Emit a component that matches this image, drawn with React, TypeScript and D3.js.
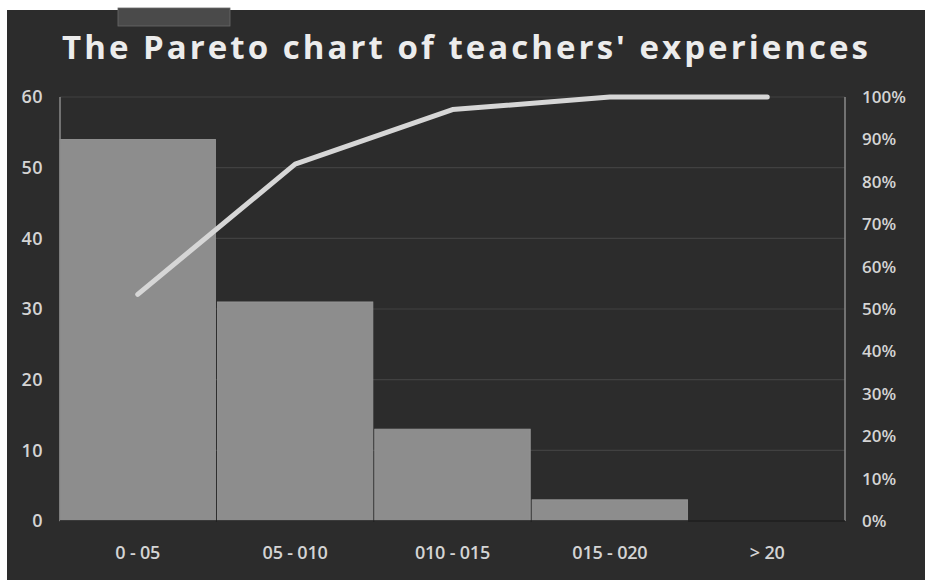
import * as d3 from "d3";
import React from "react";

const categories = ["0 - 05", "05 - 010", "010 - 015", "015 - 020", "> 20"];
const counts = [54, 31, 13, 3, 0];
const leftTicks = [0, 10, 20, 30, 40, 50, 60];
const rightTicks = [0, 0.1, 0.2, 0.3, 0.4, 0.5, 0.6, 0.7, 0.8, 0.9, 1];

const W = 927;
const H = 586;
const MARGIN = { left: 60, right: 82, top: 97, bottom: 65 };

const App = () => {
  const total = d3.sum(counts);
  const cumulative = d3.cumsum(counts).map((c) => c / total);

  const x = d3
    .scaleBand<string>()
    .domain(categories)
    .range([MARGIN.left, W - MARGIN.right])
    .paddingInner(0.012)
    .paddingOuter(0);
  const y = d3.scaleLinear().domain([0, 60]).range([H - MARGIN.bottom, MARGIN.top]);
  const yPct = d3.scaleLinear().domain([0, 1]).range([H - MARGIN.bottom, MARGIN.top]);

  const line = d3
    .line<number>()
    .x((_, i) => x(categories[i])! + x.bandwidth() / 2)
    .y((d) => yPct(d));

  const fmtPct = d3.format(".0%");
  const labelFont = "'Open Sans', sans-serif";

  return (
    <svg
      width={W}
      height={H}
      style={{ position: "absolute", left: 0, top: 0 }}
    >
      <rect width={W} height={H} fill="#ffffff" />
      {/* dark panel */}
      <rect x={7} y={10} width={918} height={570} fill="#2c2c2c" />
      <rect x={118} y={8} width={112} height={18} fill="#4a4a4a" stroke="#6a6a6a" strokeWidth={0.8} />

      <text
        x={465}
        y={59}
        textAnchor="middle"
        fontFamily={labelFont}
        fontWeight={700}
        fontSize={33}
        fill="#ececec"
        textLength={806}
        lengthAdjust="spacing"
      >
        The Pareto chart of teachers' experiences
      </text>

      {/* gridlines */}
      {leftTicks.slice(1).map((t) => (
        <line
          key={t}
          x1={MARGIN.left}
          x2={W - MARGIN.right}
          y1={y(t)}
          y2={y(t)}
          stroke="#414141"
          strokeWidth={1.2}
        />
      ))}

      {/* bars */}
      {counts.map((c, i) => (
        <rect
          key={categories[i]}
          x={x(categories[i])}
          y={y(c)}
          width={x.bandwidth()}
          height={y(0) - y(c)}
          fill="#8d8d8d"
          stroke="#9a9a9a"
          strokeWidth={0.8}
        />
      ))}

      {/* axes lines */}
      <line x1={MARGIN.left} x2={MARGIN.left} y1={MARGIN.top} y2={y(0)} stroke="#8a8a8a" strokeWidth={1.5} />
      <line x1={W - MARGIN.right} x2={W - MARGIN.right} y1={MARGIN.top} y2={y(0)} stroke="#8a8a8a" strokeWidth={1.5} />
      <line x1={MARGIN.left} x2={W - MARGIN.right} y1={y(0)} y2={y(0)} stroke="#1e1e1e" strokeWidth={1.5} />

      {/* cumulative line */}
      <path
        d={line(cumulative) ?? ""}
        fill="none"
        stroke="#d6d6d6"
        strokeWidth={5}
        strokeLinecap="round"
        strokeLinejoin="round"
      />

      {/* left tick labels */}
      {leftTicks.map((t) => (
        <text
          key={t}
          x={43}
          y={y(t)}
          dy="0.35em"
          textAnchor="end"
          fontFamily={labelFont}
          fontWeight={600}
          fontSize={18}
          letterSpacing={0.4}
          fill="#d4d4d4"
        >
          {t}
        </text>
      ))}

      {/* right tick labels */}
      {rightTicks.map((t) => (
        <text
          key={t}
          x={862}
          y={yPct(t)}
          dy="0.35em"
          textAnchor="start"
          fontFamily={labelFont}
          fontWeight={600}
          fontSize={17}
          letterSpacing={0}
          fill="#d4d4d4"
        >
          {fmtPct(t)}
        </text>
      ))}

      {/* category labels */}
      {categories.map((c) => (
        <text
          key={c}
          x={x(c)! + x.bandwidth() / 2}
          y={553}
          dy="0.35em"
          textAnchor="middle"
          fontFamily={labelFont}
          fontWeight={600}
          fontSize={18}
          letterSpacing={-0.2}
          fill="#d4d4d4"
        >
          {c}
        </text>
      ))}
    </svg>
  );
};

export default App;
